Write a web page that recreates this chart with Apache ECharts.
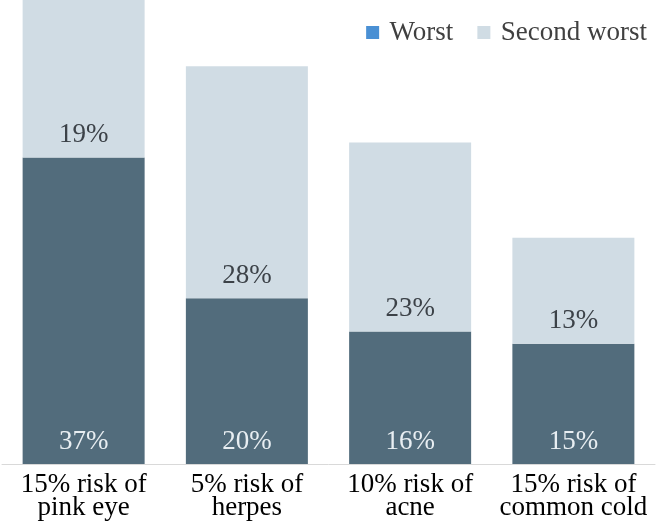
<!DOCTYPE html>
<html><head><meta charset="utf-8">
<script src="https://cdn.jsdelivr.net/npm/echarts@6/dist/echarts.min.js"></script>
<style>html,body{margin:0;padding:0;background:#fff}#c{width:663px;height:521px}</style>
</head><body><div id="c"></div>
<script>
const categories = ['15% risk of\npink eye', '5% risk of\nherpes', '10% risk of\nacne', '15% risk of\ncommon cold'];
const worst = [37, 20, 16, 14.5];
const secondWorst = [19, 28, 22.8, 12.8];
const seriesNames = ['Worst', 'Second worst'];

const font = 'Liberation Serif';
const pct = p => Math.round(p.value) + '%';
const chart = echarts.init(document.getElementById('c'));
chart.setOption({
  animation: false,
  textStyle: { fontFamily: font },
  grid: { left: 2, right: 8, top: 0, bottom: 56, containLabel: false },
  legend: {
    top: 14, right: 11,
    itemWidth: 13, itemHeight: 13, itemGap: 24,
    formatter: '\u2009{name}',
    textStyle: { fontFamily: font, fontSize: 27, color: '#404040' },
    data: [
      { name: seriesNames[0], icon: 'rect', itemStyle: { color: '#4a90d4' } },
      { name: seriesNames[1], icon: 'rect', itemStyle: { color: '#d0dce4' } }
    ]
  },
  xAxis: {
    type: 'category', data: categories,
    axisLine: { lineStyle: { color: '#d9d9d9', width: 1 } },
    axisTick: { show: false },
    axisLabel: { fontFamily: font, fontSize: 27, color: '#000', lineHeight: 23, margin: 9, interval: 0 }
  },
  yAxis: { type: 'value', min: 0, max: 56, show: false, splitLine: { show: false } },
  series: [
    {
      name: seriesNames[0], type: 'bar', stack: 's', data: worst, barWidth: 122,
      itemStyle: { color: '#526c7c' },
      label: { show: true, position: 'insideBottom', distance: 9, formatter: pct, fontFamily: font, fontSize: 27, color: '#e8eef2' }
    },
    {
      name: seriesNames[1], type: 'bar', stack: 's', data: secondWorst, barWidth: 122,
      itemStyle: { color: '#d0dce4' },
      label: { show: true, position: 'insideBottom', distance: 9, formatter: pct, fontFamily: font, fontSize: 27, color: '#3c4248' }
    }
  ]
});
</script></body></html>
